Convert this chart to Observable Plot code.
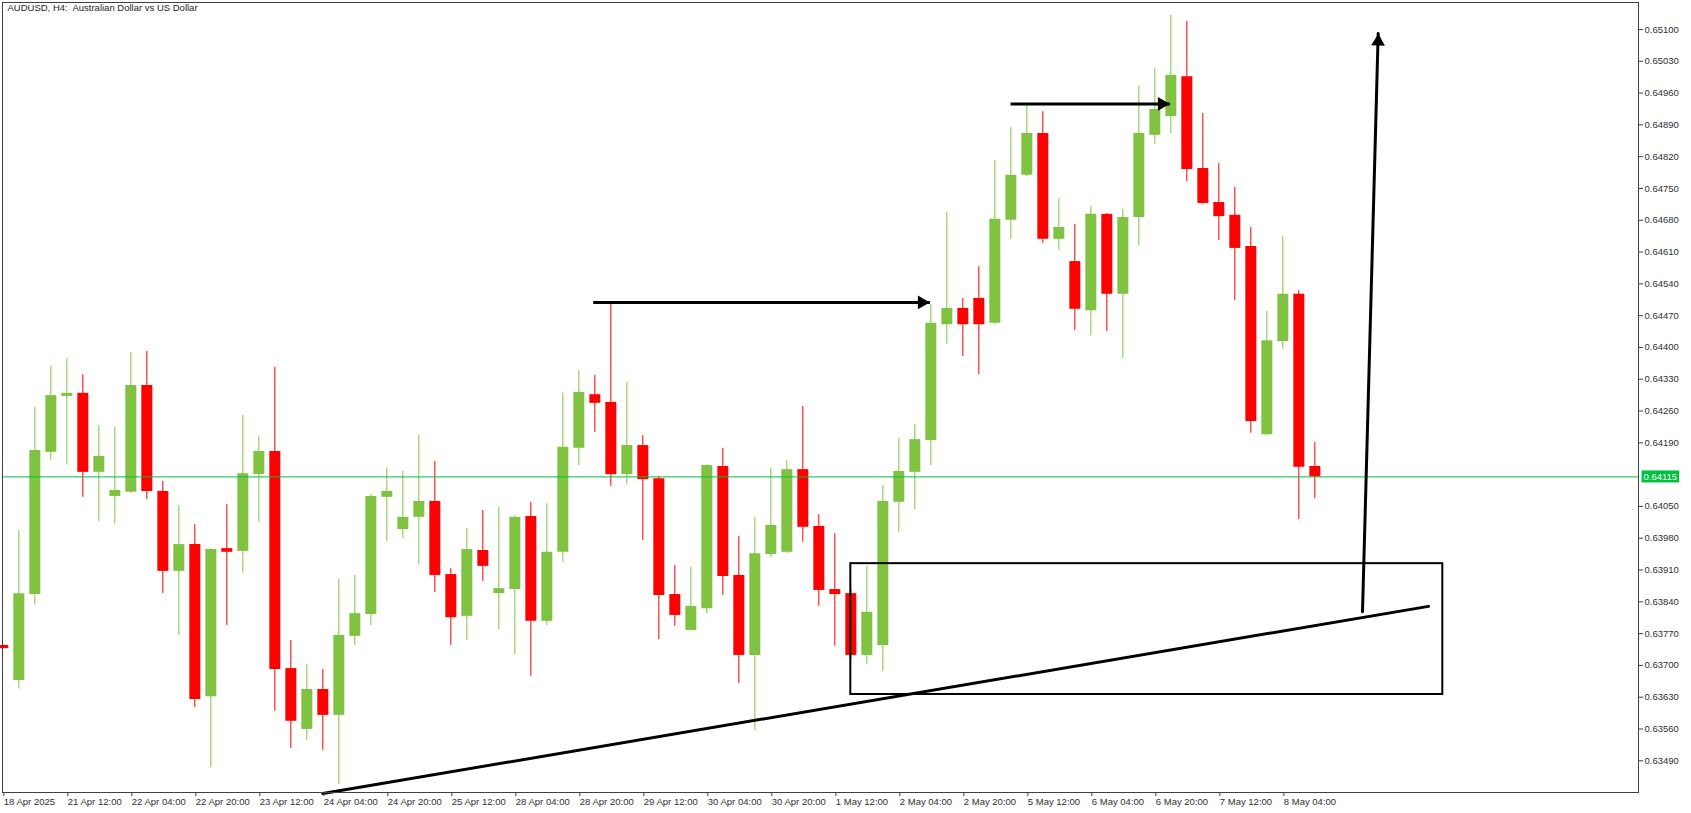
<!DOCTYPE html>
<html>
<head>
<meta charset="utf-8">
<script src="https://cdn.jsdelivr.net/npm/d3@7"></script>
<script src="https://cdn.jsdelivr.net/npm/@observablehq/plot@0.6"></script>
<style>
  html, body { margin: 0; padding: 0; background: #ffffff; }
  #chart { width: 1691px; height: 813px; overflow: hidden; }
</style>
</head>
<body>
<div id="chart"></div>
<script>
// ---- DATA (AUDUSD H4, one entry per bar, from 18 Apr 2025 20:00 to 8 May 12:00) ----
const opens = [0.63744,0.63667,0.63856,0.64169,0.64292,0.64299,0.64125,0.64072,0.64081,0.64316,
0.64083,0.63907,0.63966,0.63631,0.63957,0.63951,0.64120,0.64171,0.63693,0.63559,
0.63647,0.63590,0.63764,0.63812,0.64070,0.63999,0.64026,0.64061,0.63900,0.63808,
0.63953,0.63858,0.63867,0.64028,0.63797,0.63949,0.64178,0.64296,0.64279,0.64120,
0.64184,0.64111,0.63856,0.63777,0.63825,0.64138,0.63898,0.63722,0.63944,0.63949,
0.64131,0.64006,0.63867,0.63858,0.63722,0.63744,0.64059,0.64125,0.64195,0.64450,
0.64486,0.64508,0.64453,0.64680,0.64779,0.64871,0.64638,0.64589,0.64481,0.64693,
0.64517,0.64686,0.64867,0.64908,0.64996,0.64794,0.64719,0.64691,0.64622,0.64208,
0.64413,0.64517,0.64138];
const highs = [0.63746,0.63997,0.64268,0.64358,0.64376,0.64340,0.64228,0.64224,0.64389,0.64391,
0.64105,0.64052,0.64010,0.63957,0.64054,0.64250,0.64204,0.64356,0.63755,0.63702,
0.63691,0.63889,0.63898,0.64076,0.64134,0.64127,0.64206,0.64149,0.63913,0.64001,
0.64041,0.64048,0.64030,0.64059,0.64056,0.64299,0.64349,0.64338,0.64497,0.64323,
0.64206,0.64116,0.63920,0.63916,0.64142,0.64178,0.63984,0.64026,0.64134,0.64151,
0.64270,0.64032,0.63990,0.63870,0.63918,0.64096,0.64200,0.64230,0.64495,0.64697,
0.64508,0.64578,0.64812,0.64884,0.64933,0.64919,0.64728,0.64671,0.64710,0.64695,
0.64704,0.64975,0.65014,0.65131,0.65118,0.64915,0.64805,0.64752,0.64664,0.64479,
0.64644,0.64525,0.64191];
const lows = [0.63735,0.63648,0.63833,0.64151,0.64141,0.64070,0.64017,0.64011,0.64079,0.64065,
0.63858,0.63766,0.63607,0.63475,0.63788,0.63904,0.64015,0.63599,0.63517,0.63535,
0.63513,0.63438,0.63744,0.63788,0.63973,0.63979,0.63922,0.63860,0.63744,0.63755,
0.63885,0.63779,0.63724,0.63676,0.63788,0.63927,0.64140,0.64213,0.64094,0.64098,
0.63975,0.63757,0.63786,0.63775,0.63814,0.63854,0.63660,0.63557,0.63938,0.63946,
0.63971,0.63830,0.63742,0.63712,0.63702,0.63687,0.63993,0.64043,0.64140,0.64407,
0.64380,0.64340,0.64450,0.64638,0.64776,0.64629,0.64613,0.64437,0.64426,0.64435,
0.64376,0.64624,0.64847,0.64871,0.64765,0.64715,0.64635,0.64503,0.64211,0.64206,
0.64396,0.64021,0.64067];
const closes = [0.63737,0.63858,0.64173,0.64294,0.64299,0.64125,0.64160,0.64085,0.64316,0.64083,
0.63907,0.63966,0.63625,0.63955,0.63949,0.64122,0.64171,0.63691,0.63577,0.63647,
0.63590,0.63766,0.63814,0.64072,0.64083,0.64026,0.64061,0.63898,0.63805,0.63955,
0.63918,0.63869,0.64026,0.63797,0.63949,0.64180,0.64301,0.64277,0.64120,0.64184,
0.64109,0.63854,0.63810,0.63830,0.64140,0.63896,0.63722,0.63946,0.64008,0.64131,
0.64004,0.63865,0.63856,0.63722,0.63817,0.64061,0.64127,0.64197,0.64453,0.64486,
0.64450,0.64450,0.64682,0.64779,0.64871,0.64638,0.64664,0.64484,0.64693,0.64517,
0.64686,0.64871,0.64924,0.64999,0.64792,0.64717,0.64688,0.64618,0.64237,0.64415,
0.64517,0.64136,0.64115];

// time-axis ticks (bar number -> label)
const xTickBars = [0,4,8,12,16,20,24,28,32,36,40,44,48,52,56,60,64,68,72,76,80];
const xTickLabels = ["18 Apr 2025","21 Apr 12:00","22 Apr 04:00","22 Apr 20:00","23 Apr 12:00",
  "24 Apr 04:00","24 Apr 20:00","25 Apr 12:00","28 Apr 04:00","28 Apr 20:00","29 Apr 12:00",
  "30 Apr 04:00","30 Apr 20:00","1 May 12:00","2 May 04:00","2 May 20:00","5 May 12:00",
  "6 May 04:00","6 May 20:00","7 May 12:00","8 May 04:00"];
// price-axis ticks
const yTickValues = [0.65100,0.65030,0.64960,0.64890,0.64820,0.64750,0.64680,0.64610,0.64540,
  0.64470,0.64400,0.64330,0.64260,0.64190,0.64050,0.63980,0.63910,0.63840,0.63770,0.63700,
  0.63630,0.63560,0.63490];

// drawn objects (bar number, price)
const trendline = [{bar: 20.0, price: 0.63418}, {bar: 89.1, price: 0.63830}];
const zone = [{bar1: 53.0, bar2: 90.0, top: 0.63924, bottom: 0.63636}];
const hArrows = [{from: 36.9, to: 57.94, price: 0.64499}, {from: 62.98, to: 72.94, price: 0.64936}];
const vArrow = [{bar: 84.98, price: 0.63818}, {bar: 85.96, price: 0.65091}];
const title = "AUDUSD, H4:\u00a0 Australian Dollar vs US Dollar";

// ---- CHART ----
const UP = "#80c342", DOWN = "#ff0000", FRAME = "#3c4048", TXT = "#2d2f33", BID = "#00c040";
const fmt = d3.format(".5f");
const bars = opens.map((o, i) => ({i, open: o, high: highs[i], low: lows[i], close: closes[i]}));
const lastClose = closes[closes.length - 1];
const tickLabel = new Map(xTickBars.map((b, k) => [b, xTickLabels[k]]));
const col = d => d.close >= d.open ? UP : DOWN;

const chart = Plot.plot({
  width: 1691,
  height: 813,
  marginLeft: 2,
  marginRight: 53,
  marginTop: 2,
  marginBottom: 21,
  style: {fontFamily: "'Liberation Sans', Arial, sans-serif", fontSize: "9.5px", background: "#ffffff", color: TXT},
  x: {type: "linear", domain: [-0.02, 102.23], axis: null},
  y: {type: "linear", domain: [0.634202, 0.651594], axis: null},
  color: {type: "identity"},
  marks: [
    Plot.ruleX(bars, {x: "i", y1: "low", y2: "high", stroke: col, strokeWidth: 1}),
    Plot.ruleX(bars, {x: "i", y1: "open", y2: "close", stroke: col, strokeWidth: 11}),
    Plot.ruleY([lastClose], {stroke: BID, strokeWidth: 1}),
    Plot.rect(zone, {x1: "bar1", x2: "bar2", y1: "bottom", y2: "top", fill: "none", stroke: "black", strokeWidth: 2}),
    Plot.line(trendline, {x: "bar", y: "price", stroke: "black", strokeWidth: 3}),
    Plot.link(hArrows, {x1: "from", x2: "to", y1: "price", y2: "price", stroke: "black", strokeWidth: 3}),
    Plot.dot(hArrows, {x: "to", y: "price", symbol: "triangle", r: 5.1, fill: "black", rotate: 90, dx: -8}),
    Plot.line(vArrow, {x: "bar", y: "price", stroke: "black", strokeWidth: 3}),
    Plot.dot(vArrow.slice(1), {x: "bar", y: "price", symbol: "triangle", r: 5.1, fill: "black", rotate: 1.5, dy: 8}),
    Plot.frame({stroke: FRAME, strokeWidth: 1}),
    Plot.axisX(xTickBars, {anchor: "bottom", tickSize: 4, tickPadding: 2, tickFormat: d => tickLabel.get(d),
      textAnchor: "start", dx: 1, color: TXT, stroke: FRAME, fontSize: 9.5, label: null}),
    Plot.axisY(yTickValues, {anchor: "right", tickSize: 4, tickPadding: 2, tickFormat: fmt,
      color: TXT, stroke: FRAME, fontSize: 9.5, label: null}),
    Plot.text([title], {frameAnchor: "top-left", dx: 5, dy: 2, textAnchor: "start", lineAnchor: "top", fill: "#1e1e1e", fontSize: 9.5}),
    Plot.text([lastClose], {y: d => d, frameAnchor: "right", dx: 5, textAnchor: "start", fill: "#ffffff", text: d => fmt(d), fontSize: 9.5})
  ]
});

document.getElementById("chart").append(chart);

// green background box behind the current price label
d3.select(chart).selectAll("text")
  .filter(function () { return this.textContent === fmt(lastClose) && this.getAttribute("fill") === "#ffffff" || (this.textContent === fmt(lastClose) && this.parentNode.getAttribute("fill") === "#ffffff"); })
  .each(function () {
    const b = this.getBBox();
    const r = document.createElementNS("http://www.w3.org/2000/svg", "rect");
    r.setAttribute("x", b.x - 2);
    r.setAttribute("y", b.y - 0.5);
    r.setAttribute("width", b.width + 4);
    r.setAttribute("height", b.height + 1);
    r.setAttribute("fill", BID);
    r.setAttribute("stroke", "none");
    const tr = this.getAttribute("transform");
    if (tr) r.setAttribute("transform", tr);
    this.parentNode.insertBefore(r, this);
  });
</script>
</body>
</html>
